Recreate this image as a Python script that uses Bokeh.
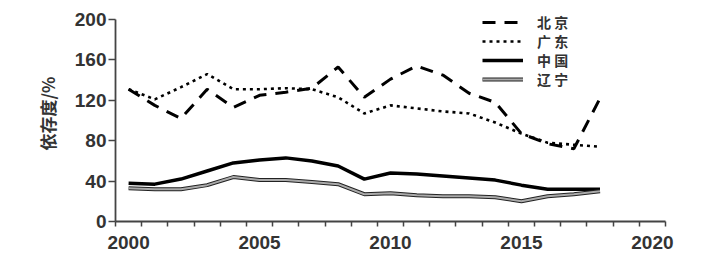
from bokeh.plotting import figure
from bokeh.models import FixedTicker, Legend, LegendItem, Range1d
from bokeh.embed import file_html
from bokeh.resources import INLINE

years = list(range(2000, 2019))
beijing = [131, 115, 102, 131, 113, 125, 128, 132, 153, 123, 141, 154, 145, 127, 118, 87, 77, 72, 122]
guangdong = [131, 121, 133, 146, 131, 131, 132, 131, 123, 107, 115, 112, 109, 107, 98, 87, 78, 76, 74]
china = [38, 37, 42, 50, 58, 61, 63, 60, 55, 42, 48, 47, 45, 43, 41, 36, 32, 32, 32]
liaoning = [33, 32, 32, 36, 44, 41, 41, 39, 37, 27, 28, 26, 25, 25, 24, 20, 25, 27, 30]
labels = ["北 京", "广 东", "中 国", "辽 宁"]

x_major = [2000, 2005, 2010, 2015, 2020]
y_major = [0, 40, 80, 120, 160, 200]
x_minor = [1999.5 + k for k in range(22)]

# frame runs from y=5 to y=221 px; the axis itself stops at 200 (y=19 px)
p = figure(width=701, height=255, output_backend="svg", toolbar_location=None,
           x_range=Range1d(1999.5, 2020.5), y_range=Range1d(0, 213.9),
           min_border_left=115, min_border_right=36, min_border_top=5, min_border_bottom=34)
p.outline_line_color = None
p.grid.visible = False
p.background_fill_color = "white"
p.border_fill_color = "white"

r_bj = p.line(years, beijing, line_color="black", line_width=3, line_dash="13 9")
r_gd = p.line(years, guangdong, line_color="black", line_width=2.6, line_dash="3 4")
r_cn = p.line(years, china, line_color="black", line_width=3.5)
r_ln1 = p.line(years, liaoning, line_color="#222222", line_width=4)
r_ln2 = p.line(years, liaoning, line_color="#aaaaaa", line_width=2)

tick_font = "Liberation Sans"
xa = p.xaxis[0]
xa.ticker = FixedTicker(ticks=x_major, minor_ticks=x_minor)
xa.major_tick_out = 0
xa.major_tick_in = 0
xa.minor_tick_out = 5
xa.minor_tick_in = 0
xa.minor_tick_line_color = "#444444"
xa.minor_tick_line_width = 1.5
xa.axis_line_color = "#444444"
xa.axis_line_width = 1.8
xa.major_label_standoff = 9
xa.major_label_text_font = tick_font
xa.major_label_text_font_style = "bold"
xa.major_label_text_font_size = "19px"
xa.major_label_text_color = "#333333"

ya = p.yaxis[0]
ya.ticker = FixedTicker(ticks=y_major, minor_ticks=[])
ya.bounds = (0, 200)
ya.major_tick_out = 7
ya.major_tick_in = 0
ya.major_tick_line_color = "#444444"
ya.major_tick_line_width = 1.5
ya.axis_line_color = "#444444"
ya.axis_line_width = 1.8
ya.major_label_standoff = 2
ya.major_label_text_font = tick_font
ya.major_label_text_font_style = "bold"
ya.major_label_text_font_size = "19px"
ya.major_label_text_color = "#333333"
ya.axis_label = "依存度/%"
ya.axis_label_text_font = "Noto Sans CJK SC"
ya.axis_label_text_font_style = "bold"
ya.axis_label_text_font_size = "17px"
ya.axis_label_text_color = "#333333"
ya.axis_label_standoff = 12

# one single-item legend per row, so the rows can sit as close as in the reference
row_renderers = [[r_bj], [r_gd], [r_cn], [r_ln1, r_ln2]]
row_offsets = [189, 170, 151, 132]
for lab, rends, yoff in zip(labels, row_renderers, row_offsets):
    lg = Legend(items=[LegendItem(label=lab, renderers=rends)], location=(367, yoff))
    lg.padding = 0
    lg.margin = 0
    lg.spacing = 0
    lg.border_line_color = None
    lg.background_fill_alpha = 0
    lg.glyph_width = 41
    lg.glyph_height = 18
    lg.label_height = 18
    lg.label_standoff = 14
    lg.label_text_font = "Noto Sans CJK SC"
    lg.label_text_font_style = "bold"
    lg.label_text_font_size = "14px"
    lg.label_text_color = "#333333"
    lg.label_text_baseline = "middle"
    p.add_layout(lg, "center")

open("out.html", "w").write(file_html(p, INLINE))
